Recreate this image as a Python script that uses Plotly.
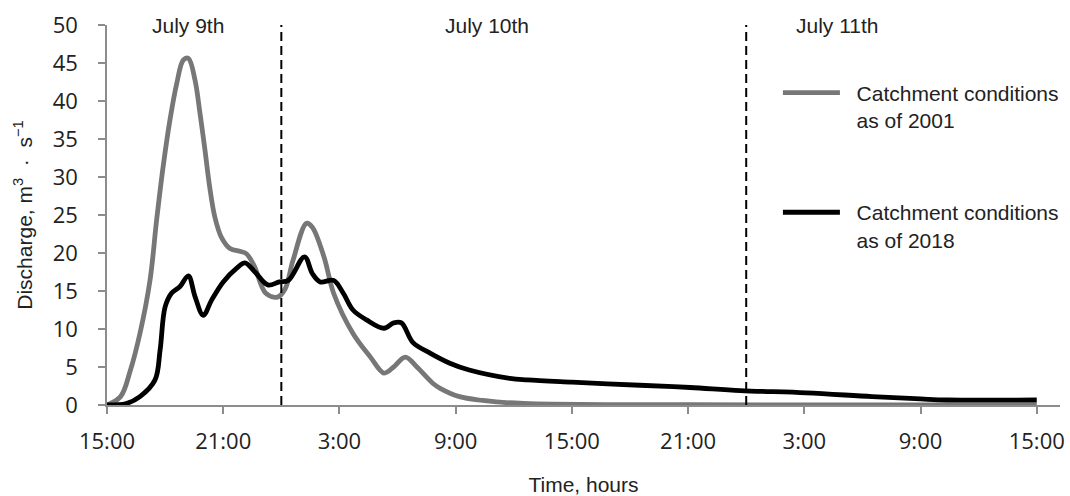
import plotly.graph_objects as go

# ---- data (hours since 15:00 July 9th) ----
hours_2001 = [0, 0.7, 1.2, 1.7, 2.22, 2.56, 2.9, 3.25, 3.6, 3.94, 4.2, 4.54, 4.8, 5.06, 5.3,
              5.57, 5.9, 6.35, 6.9, 7.2, 7.6, 8.2, 8.8, 9.2, 9.6, 10.3, 10.6, 11.2, 11.7, 12.7,
              13.6, 14.3, 14.8, 15.4, 16.0, 16.8, 17.2, 18.2, 19.4, 20.1, 21.5, 23, 26, 30,
              36, 42, 48]
discharge_2001 = [0, 1.1, 4.5, 9.4, 16.4, 24.3, 31.4, 37.5, 42.3, 45.4, 45.6, 42.8, 38.4, 33.5, 28.7,
                  24.7, 22.1, 20.6, 20.2, 19.9, 18.3, 14.7, 14.2, 15.3, 19, 23.9, 23.4, 19.5, 14.7, 9.4,
                  6.3, 4.2, 5.0, 6.3, 5.0, 2.9, 2.2, 1.1, 0.6, 0.4, 0.2, 0.1, 0.05, 0.03,
                  0.02, 0.02, 0.02]

hours_2018 = [0, 1.0, 1.7, 2.48, 2.74, 3.0, 3.33, 3.77, 4.2, 4.54, 4.97, 5.4, 6.0, 6.7, 7.12,
              7.64, 8.3, 8.9, 9.36, 10.2, 10.6, 11.0, 11.7, 12.2, 12.7, 13.4, 14.3, 14.8, 15.2,
              15.8, 16.7, 17.7, 18.7, 20.8, 21.7, 24, 27.5, 30.1, 32.7, 36.1, 39.5, 42, 43.4, 48]
discharge_2018 = [0, 0.2, 1.1, 3.3, 7.2, 12.9, 14.7, 15.6, 17.0, 14.3, 11.8, 13.8, 16.2, 18.0, 18.7,
                  17.5, 15.8, 16.2, 16.4, 19.5, 17.3, 16.2, 16.4, 14.7, 12.5, 11.2, 10.1, 10.8, 10.8,
                  8.2, 6.8, 5.5, 4.6, 3.5, 3.3, 3.0, 2.6, 2.3, 1.9, 1.6, 1.1, 0.8, 0.66, 0.66]

tick_hours = [0, 6, 12, 18, 24, 30, 36, 42, 48]
tick_labels = ["15:00", "21:00", "3:00", "9:00", "15:00", "21:00", "3:00", "9:00", "15:00"]

day_boundaries = [9, 33]
day_labels = ["July 9th", "July 10th", "July 11th"]
day_label_pos = [4.2, 19.6, 37.7]

series_names = ["\u00a0\u00a0Catchment conditions<br>\u00a0\u00a0as of 2001",
                "\u00a0\u00a0Catchment conditions<br>\u00a0\u00a0as of 2018"]
series_colors = ["#777777", "#000000"]

ARIAL = "Liberation Sans, Arial, sans-serif"
TICKFONT = "Open Sans, sans-serif"
TXT = 21

fig = go.Figure()
for i, (hx, hy) in enumerate([(hours_2001, discharge_2001), (hours_2018, discharge_2018)]):
    fig.add_trace(go.Scatter(
        x=hx, y=hy, mode="lines", name=series_names[i], legendgroup=str(i),
        line=dict(color=series_colors[i], width=4.8, shape="spline", smoothing=1.0),
    ))

for b in day_boundaries:
    fig.add_vline(x=b, line=dict(color="black", width=2, dash="9px,5px"))

for lab, pos in zip(day_labels, day_label_pos):
    fig.add_annotation(x=pos, y=50, xref="x", yref="y", text=lab, showarrow=False,
                       font=dict(family=ARIAL, size=TXT, color="#222"), yanchor="middle")

axis_color = "#8c8c8c"
fig.update_layout(
    width=1070, height=496,
    margin=dict(l=107, r=10, t=25, b=91, autoexpand=False),
    paper_bgcolor="white", plot_bgcolor="white",
    showlegend=True,
    legend=dict(x=0.704, y=0.875, xanchor="left", yanchor="top", valign="top",
                font=dict(family=ARIAL, size=TXT, color="#222"),
                tracegroupgap=62, itemwidth=57, bgcolor="rgba(0,0,0,0)"),
    xaxis=dict(range=[0, 49.2], tickmode="array", tickvals=tick_hours, ticktext=tick_labels,
               automargin=False,
               showgrid=False, zeroline=False, showline=True, linecolor=axis_color, linewidth=1.5,
               ticks="outside", ticklen=7, tickcolor=axis_color, tickwidth=1.5,
               ticklabelstandoff=9,
               tickfont=dict(family=TICKFONT, size=22, color="#222"),
               title=dict(text="Time, hours", font=dict(family=ARIAL, size=TXT, color="#222"),
                          standoff=25)),
    yaxis=dict(range=[0, 50], dtick=5, showgrid=False, zeroline=False, showline=True,
               automargin=False,
               linecolor=axis_color, linewidth=1.5, ticks="outside", ticklen=7,
               tickcolor=axis_color, tickwidth=1.5, ticklabelstandoff=16,
               tickfont=dict(family=TICKFONT, size=22, color="#222"),
               title=dict(text="Discharge, m<sup>3</sup>\u00a0\u00a0·\u00a0\u00a0s<sup>−1</sup>",
                          font=dict(family=ARIAL, size=TXT, color="#222"), standoff=14)),
)

fig.write_html("out.html", config={"displayModeBar": False},
               post_script="document.body.style.margin='0';")
